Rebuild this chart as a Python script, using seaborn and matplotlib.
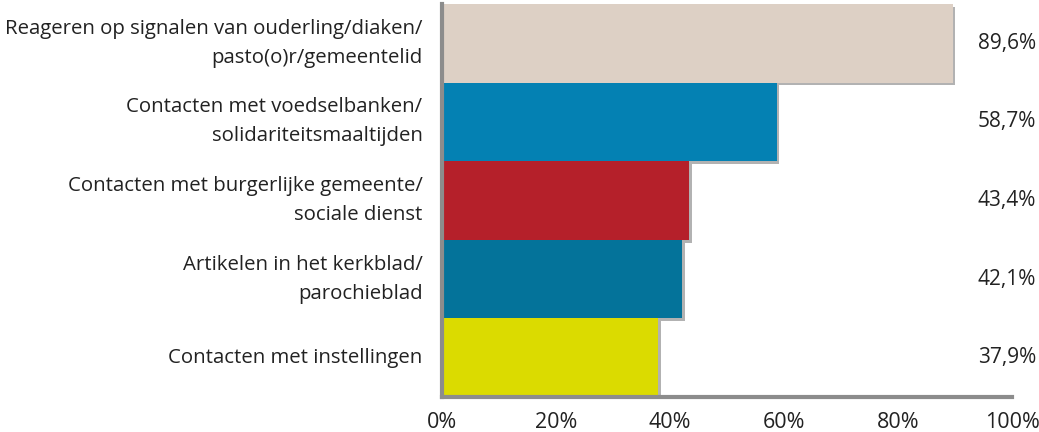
import matplotlib
matplotlib.use('Agg')
import matplotlib.pyplot as plt
import matplotlib.patheffects as pe
import seaborn as sns
import pandas as pd

categories = [
    "Reageren op signalen van ouderling/diaken/\npasto(o)r/gemeentelid",
    "Contacten met voedselbanken/\nsolidariteitsmaaltijden",
    "Contacten met burgerlijke gemeente/\nsociale dienst",
    "Artikelen in het kerkblad/\nparochieblad",
    "Contacten met instellingen",
]
values = [89.6, 58.7, 43.4, 42.1, 37.9]
labels = ["89,6%", "58,7%", "43,4%", "42,1%", "37,9%"]
colors = ["#ddd0c5", "#0481b3", "#b5202a", "#04739a", "#dbdb00"]

sns.set_style("white")
plt.rcParams['font.family'] = ['Open Sans', 'DejaVu Sans']

df = pd.DataFrame({'cat': categories, 'val': values})

fig = plt.figure(figsize=(10.39, 4.32), dpi=100)
ax = fig.add_axes([0.4254, 0.081, 0.5486, 0.91])
sns.barplot(data=df, x='val', y='cat', hue='cat', palette=colors, orient='h',
            width=1.0, legend=False, ax=ax, saturation=1, linewidth=0)

for bar in ax.patches:
    bar.set_edgecolor('none')
    bar.set_path_effects([pe.SimplePatchShadow(offset=(2, -2), shadow_rgbFace='#555555', alpha=0.45),
                          pe.Normal()])

for i, lab in enumerate(labels):
    ax.text(1.042, i, lab, transform=ax.get_yaxis_transform(), ha='right', va='center',
            fontsize=15, color='#222222')

ax.set_xlim(0, 100)
ax.set_ylim(4.5, -0.5)
ax.set_xticks([0, 20, 40, 60, 80, 100])
ax.set_xticklabels(["0%", "20%", "40%", "60%", "80%", "100%"])
ax.set_xlabel("")
ax.set_ylabel("")

for s in ['top', 'right']:
    ax.spines[s].set_visible(False)
for s in ['left', 'bottom']:
    ax.spines[s].set_color('#8c8c8c')
    ax.spines[s].set_linewidth(3)

ax.tick_params(axis='x', which='major', direction='out', length=7, width=2.5,
               color='#8c8c8c', labelsize=15.5, labelcolor='#222222', pad=4)
ax.tick_params(axis='y', length=0, labelsize=14.7, labelcolor='#222222', pad=14)
for t in ax.get_yticklabels():
    t.set_multialignment('right')
    t.set_linespacing(1.6)
    t.set_verticalalignment('center')

fig.savefig('out.png', dpi=100)
